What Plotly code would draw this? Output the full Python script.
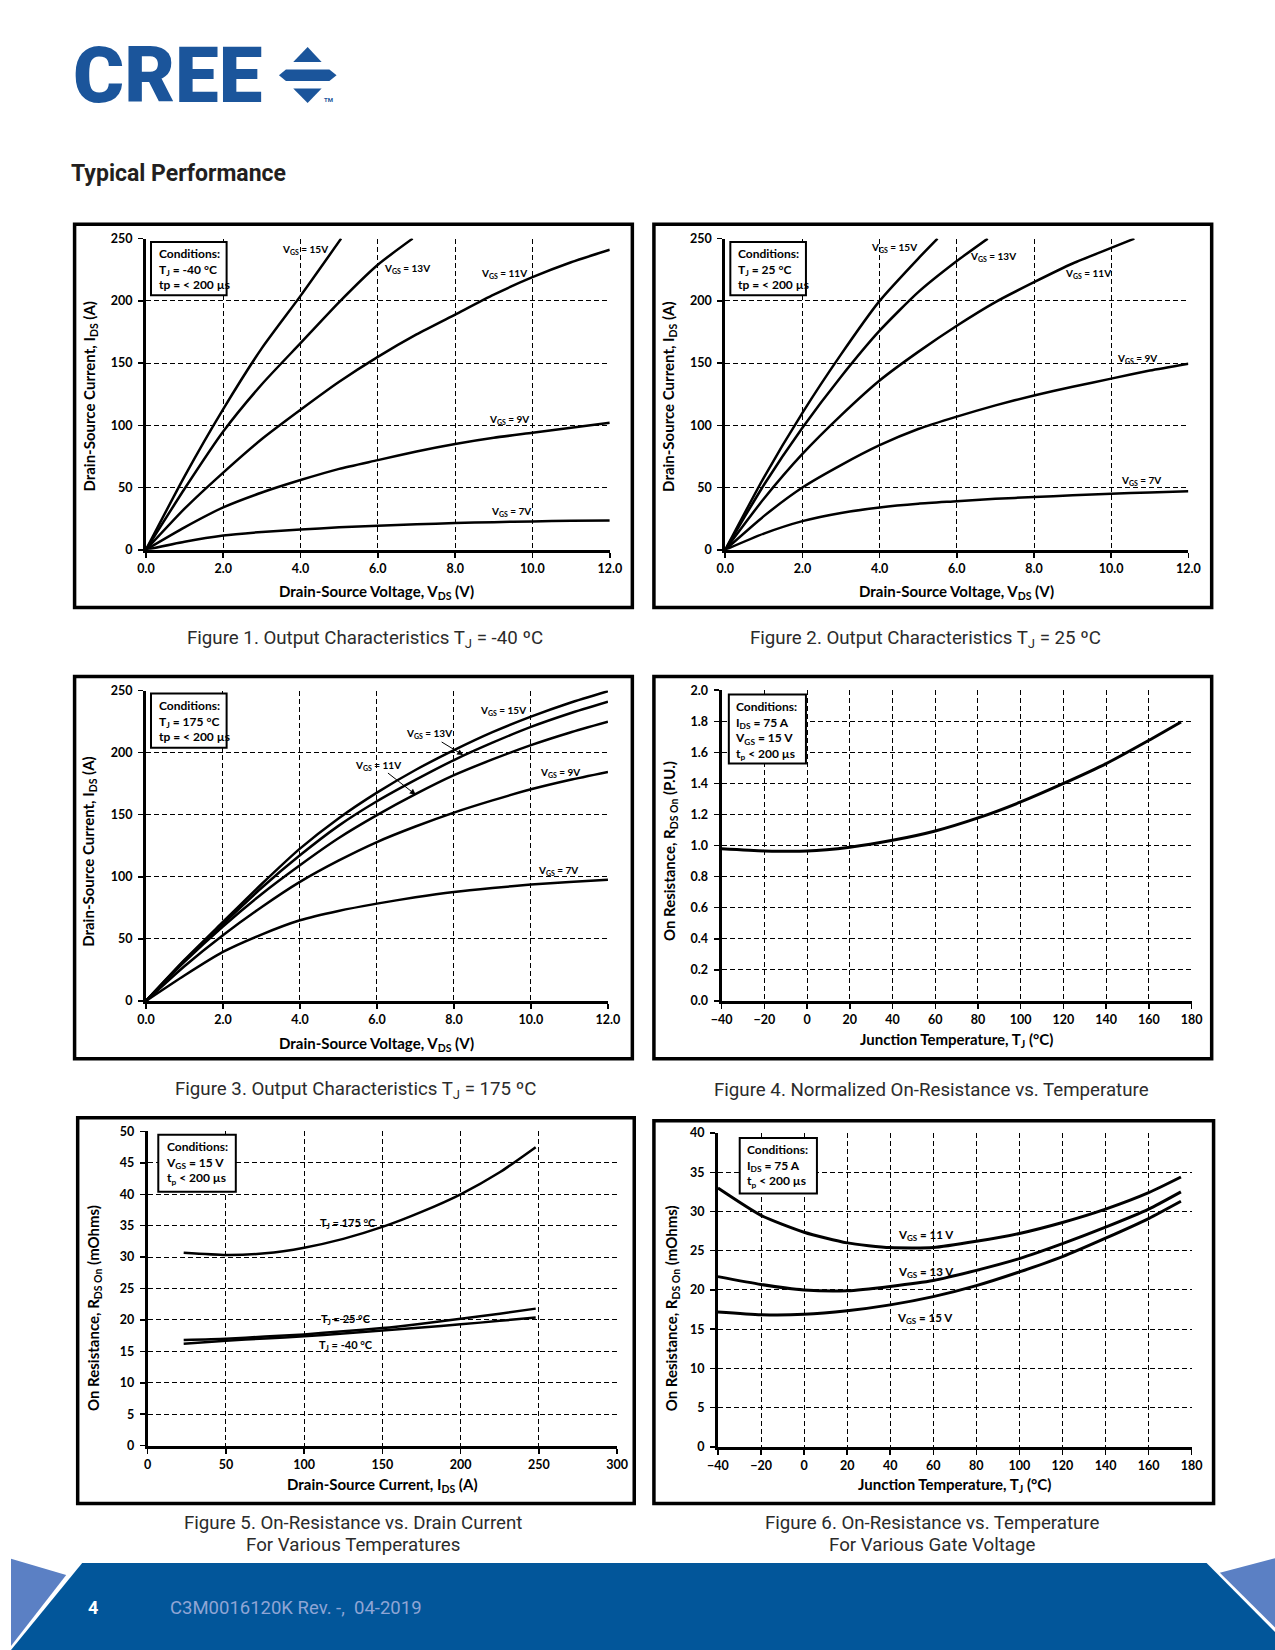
import plotly.graph_objects as go

# Positions below are reference-page pixels; they are mapped into figure
# pixels with the measured page-to-photo transform (scale + offset).
OX, OY = 0, 0            # body margin removed by the post script
W, H = 1290, 1662        # slightly larger than the page so the footer reaches the edges
AX, BX = 0.9833, 10.74
AY, BY = 0.9905, 7.8

# ====================== DATA ======================
VDS = [0, 1, 2, 3, 4, 5, 6, 7, 8, 9, 10, 11, 12]

# Figure 1 : Output characteristics, Tj = -40 C
f1_vgs15_x = [0, 1, 2, 3, 4, 5.05]
f1_vgs15_y = [0, 59, 113, 162, 204, 250]
f1_vgs13_x = [0, 1, 2, 3, 4, 5, 6, 6.9]
f1_vgs13_y = [0, 49, 95, 133, 166, 199, 229, 250]
f1_vgs11_y = [0, 33, 62, 89, 112.5, 135, 155, 173, 189, 205, 219, 231, 241]
f1_vgs9_y = [0, 18, 34, 46, 56, 65, 72, 79, 85, 90, 94, 98, 102]
f1_vgs7_y = [0, 6.5, 11.5, 14.3, 16.3, 18, 19.3, 20.4, 21.4, 22.2, 22.8, 23.3, 23.6]

# Figure 2 : Output characteristics, Tj = 25 C
f2_vgs15_x = [0, 1, 2, 3, 4, 5, 5.5]
f2_vgs15_y = [0, 58, 110, 157, 200, 234, 250]
f2_vgs13_x = [0, 1, 2, 3, 4, 5, 6, 6.8]
f2_vgs13_y = [0, 52, 98, 139, 176, 207, 232, 250]
f2_vgs11_x = [0, 1, 2, 3, 4, 5, 6, 7, 8, 9, 10, 10.6]
f2_vgs11_y = [0, 41, 77, 108, 136, 159, 180, 199, 215, 230, 242.5, 250]
f2_vgs9_y = [0, 27, 50, 68, 84, 97, 107, 116, 124, 131, 137.5, 144, 149.5]
f2_vgs7_y = [0, 13, 23, 29.5, 34, 37, 39, 41, 42.3, 43.8, 45, 46, 47]

# Figure 3 : Output characteristics, Tj = 175 C
f3_vgs15_y = [0, 33, 63.6, 94, 122.7, 147, 167.8, 186, 202, 216.5, 229, 240, 249.5]
f3_vgs13_y = [0, 32.5, 62, 91, 117.3, 141, 160.8, 178, 194, 208, 220.7, 231.5, 241]
f3_vgs11_y = [0, 31.5, 60, 86, 109.3, 131, 149.6, 166.5, 181.8, 194.5, 206, 216, 224.8]
f3_vgs9_y = [0, 28, 53, 75.5, 95.9, 113, 128, 140.5, 151.7, 161.5, 170.5, 178, 184.5]
f3_vgs7_y = [0, 20.5, 39.5, 53.5, 65, 72.5, 78.4, 83.5, 87.8, 91, 93.7, 95.9, 97.7]

# Figure 4 : Normalized on-resistance vs temperature
f4_tj = [-40, -20, 0, 20, 40, 60, 80, 100, 120, 140, 160, 175]
f4_rds = [0.98, 0.966, 0.965, 0.99, 1.034, 1.094, 1.178, 1.281, 1.40, 1.528, 1.678, 1.796]

# Figure 5 : On-resistance vs drain current
f5_ids = [23, 50, 75, 100, 125, 150, 175, 200, 225, 248]
f5_tj175 = [30.7, 30.35, 30.6, 31.5, 32.9, 34.8, 37.2, 40.0, 43.5, 47.5]
f5_tj25 = [16.8, 17.0, 17.35, 17.7, 18.2, 18.7, 19.4, 20.2, 21.0, 21.8]
f5_tjm40 = [16.2, 16.7, 17.05, 17.4, 17.85, 18.3, 18.8, 19.3, 19.85, 20.4]

# Figure 6 : On-resistance vs temperature for various gate voltages
f6_tj = [-40, -20, 0, 20, 40, 60, 80, 100, 120, 140, 160, 175]
f6_vgs11 = [32.98, 29.5, 27.36, 26.0, 25.4, 25.4, 26.2, 27.2, 28.6, 30.3, 32.4, 34.4]
f6_vgs13 = [21.7, 20.7, 20.0, 19.9, 20.45, 21.2, 22.5, 24.0, 25.9, 28.0, 30.3, 32.5]
f6_vgs15 = [17.2, 16.85, 16.9, 17.35, 18.1, 19.15, 20.55, 22.3, 24.25, 26.6, 29.1, 31.3]

# Curve label texts and their (x, y) positions in data units
vgs_labels = ["V<sub>GS</sub> = 15V", "V<sub>GS</sub> = 13V", "V<sub>GS</sub> = 11V",
              "V<sub>GS</sub> = 9V", "V<sub>GS</sub> = 7V"]
f1_label_x = [4.12, 6.76, 9.26, 9.4, 9.45]
f1_label_y = [241, 226, 222, 104.8, 31]
f2_label_x = [4.36, 6.95, 9.4, 10.68, 10.77]
f2_label_y = [242.8, 236, 222, 154, 56]
f3_label_x = [9.28, 7.34, 6.02, 10.75, 10.7]
f3_label_y = [233.6, 215, 190, 184, 105]
f3_arrow_x = [None, 8.24, 7.01, None, None]
f3_arrow_y = [None, 198, 166, None, None]
f5_labels = ["T<sub>J</sub> = 175 °C", "T<sub>J</sub> = 25 °C", "T<sub>J</sub> = -40 °C"]
f5_label_x = [128, 127, 127]
f5_label_y = [35.35, 20.1, 16.0]
f6_labels = ["V<sub>GS</sub> = 11 V", "V<sub>GS</sub> = 13 V", "V<sub>GS</sub> = 15 V"]
f6_label_x = [56.6, 56.6, 56]
f6_label_y = [27.0, 22.2, 16.3]

conditions = [
    "Conditions:<br>T<sub>J</sub> = -40 °C<br>tp = < 200 µs",
    "Conditions:<br>T<sub>J</sub> = 25 °C<br>tp = < 200 µs",
    "Conditions:<br>T<sub>J</sub> = 175 °C<br>tp = < 200 µs",
    "Conditions:<br>I<sub>DS</sub> = 75 A<br>V<sub>GS</sub> = 15 V<br>t<sub>p</sub> < 200 µs",
    "Conditions:<br>V<sub>GS</sub> = 15 V<br>t<sub>p</sub> < 200 µs",
    "Conditions:<br>I<sub>DS</sub> = 75 A<br>t<sub>p</sub> < 200 µs",
]
captions_line1 = [
    "Figure 1. Output Characteristics T<sub>J</sub> = -40 ºC",
    "Figure 2. Output Characteristics T<sub>J</sub> = 25 ºC",
    "Figure 3. Output Characteristics T<sub>J</sub> = 175 ºC",
    "Figure 4. Normalized On-Resistance vs. Temperature",
    "Figure 5. On-Resistance vs. Drain Current",
    "Figure 6. On-Resistance vs. Temperature",
]
captions_line2 = ["", "", "", "", "For Various Temperatures", "For Various Gate Voltage"]
x_titles = [
    "Drain-Source Voltage, V<sub>DS</sub> (V)",
    "Drain-Source Voltage, V<sub>DS</sub> (V)",
    "Drain-Source Voltage, V<sub>DS</sub> (V)",
    "Junction Temperature, T<sub>J</sub> (°C)",
    "Drain-Source Current, I<sub>DS</sub> (A)",
    "Junction Temperature, T<sub>J</sub> (°C)",
]
y_titles = [
    "Drain-Source Current, I<sub>DS</sub> (A)",
    "Drain-Source Current, I<sub>DS</sub> (A)",
    "Drain-Source Current, I<sub>DS</sub> (A)",
    "On Resistance, R<sub>DS On</sub> (P.U.)",
    "On Resistance, R<sub>DS On</sub> (mOhms)",
    "On Resistance, R<sub>DS On</sub> (mOhms)",
]

# ====================== LAYOUT HELPERS ======================
def clamp(v, lo, hi):
    return max(lo, min(hi, v))

def figx(p):
    return (p - BX) / AX - OX

def figy(p):
    return (p - BY) / AY - OY

def fx(p):
    return figx(p) / W

def fy(p):
    return 1 - figy(p) / H

CHART_FONT = "Lato"
BLACK = "black"
LOGO_BLUE = "#1b559b"

plot_px = [
    (145.8, 610.2, 238.3, 549.3),
    (725.8, 1189.5, 238.3, 549.3),
    (145.8, 608.4, 690.0, 1000.3),
    (722.1, 1192.8, 689.7, 1000.3),
    (147.6, 617.5, 1130.7, 1444.7),
    (718.5, 1192.8, 1132.3, 1446.0),
]
x_specs = [([0, 12], 2, ".1f")] * 3 + [([-40, 180], 20, "d"), ([0, 300], 50, "d"), ([-40, 180], 20, "d")]
y_specs = [([0, 250], 50, "d")] * 3 + [([0, 2.0], 0.2, ".1f"), ([0, 50], 5, "d"), ([0, 40], 5, "d")]
frames_px = [
    (74.4, 224, 632.8, 607),
    (654.4, 224, 1212.8, 607),
    (74.4, 676, 632.8, 1058),
    (654.4, 676, 1212.8, 1058),
    (77.5, 1117, 634.7, 1502.7),
    (654.4, 1120, 1214.7, 1502.7),
]
cond_px = [
    (150.9, 241.7, 226.6, 295.0, 156.5),
    (730.9, 241.7, 806.6, 295.0, 736.5),
    (150.9, 693.0, 226.6, 747.3, 156.5),
    (729.4, 694.0, 806.6, 763.0, 734.0),
    (158.2, 1134.0, 235.8, 1191.0, 163.5),
    (740.3, 1137.3, 817.6, 1192.7, 745.5),
]
x_title_px = [(377, 592), (957, 592), (377, 1043), (957.5, 1039), (383, 1484), (955, 1484)]
y_title_px = [(90, 396), (670, 396), (88, 851), (670, 851), (94, 1307), (672, 1308)]
caption_px = [(365, 638.5), (926, 638.5), (355.6, 1089), (932.6, 1089), (353.5, 1522), (933, 1522)]
CAPTION_LINE2_DY = 22

fig = go.Figure()

layout_axes = {}
for i in range(6):
    n = "" if i == 0 else str(i + 1)
    l, r, t, b = plot_px[i]
    xr, xdt, xfmt = x_specs[i]
    yr, ydt, yfmt = y_specs[i]
    common = dict(
        showline=True, linecolor=BLACK, linewidth=3,
        ticks="outside", ticklen=5, tickwidth=1.5, tickcolor=BLACK,
        showgrid=True, gridcolor=BLACK, gridwidth=1, griddash="5px,3px",
        zeroline=False, fixedrange=True,
        tickfont=dict(family=CHART_FONT, size=12.5, color=BLACK, weight="bold"),
    )
    layout_axes["xaxis" + n] = dict(
        common, domain=[fx(l), fx(r)], anchor="y" + n, range=xr,
        tick0=xr[0], dtick=xdt, tickformat=xfmt, ticklabelstandoff=0,
    )
    layout_axes["yaxis" + n] = dict(
        common, domain=[fy(b), fy(t)], anchor="x" + n, range=yr,
        tick0=yr[0], dtick=ydt, tickformat=yfmt, ticklabelstandoff=3,
    )

def add_curve(x, y, ax, width=2.5):
    fig.add_trace(go.Scatter(
        x=x, y=y, mode="lines",
        line=dict(color=BLACK, width=width, shape="spline", smoothing=0.6),
        xaxis="x" + ax, yaxis="y" + ax, showlegend=False, hoverinfo="skip",
    ))

add_curve(f1_vgs15_x, f1_vgs15_y, "")
add_curve(f1_vgs13_x, f1_vgs13_y, "")
add_curve(VDS, f1_vgs11_y, "")
add_curve(VDS, f1_vgs9_y, "")
add_curve(VDS, f1_vgs7_y, "")
add_curve(f2_vgs15_x, f2_vgs15_y, "2")
add_curve(f2_vgs13_x, f2_vgs13_y, "2")
add_curve(f2_vgs11_x, f2_vgs11_y, "2")
add_curve(VDS, f2_vgs9_y, "2")
add_curve(VDS, f2_vgs7_y, "2")
for ys in [f3_vgs15_y, f3_vgs13_y, f3_vgs11_y, f3_vgs9_y, f3_vgs7_y]:
    add_curve(VDS, ys, "3")
add_curve(f4_tj, f4_rds, "4", width=3)
add_curve(f5_ids, f5_tj175, "5")
add_curve(f5_ids, f5_tj25, "5")
add_curve(f5_ids, f5_tjm40, "5")
add_curve(f6_tj, f6_vgs11, "6", width=3)
add_curve(f6_tj, f6_vgs13, "6", width=3)
add_curve(f6_tj, f6_vgs15, "6", width=3)

annotations = []
shapes = []

def label(text, x, y, ax, size):
    annotations.append(dict(
        text=text, x=x, y=y, xref="x" + ax, yref="y" + ax, showarrow=False,
        font=dict(family=CHART_FONT, size=size, color=BLACK, weight="bold"),
        xanchor="center", yanchor="middle",
    ))

for k in range(5):
    label(vgs_labels[k], f1_label_x[k], f1_label_y[k], "", 10)
    label(vgs_labels[k], f2_label_x[k], f2_label_y[k], "2", 10)
for k in range(5):
    if f3_arrow_x[k] is None:
        label(vgs_labels[k], f3_label_x[k], f3_label_y[k], "3", 10)
    else:
        annotations.append(dict(
            text=vgs_labels[k], x=f3_arrow_x[k], y=f3_arrow_y[k],
            ax=f3_label_x[k], ay=f3_label_y[k], axref="x3", ayref="y3",
            xref="x3", yref="y3", showarrow=True, arrowhead=2, arrowsize=1.2,
            arrowwidth=1, arrowcolor=BLACK,
            font=dict(family=CHART_FONT, size=10, color=BLACK, weight="bold"),
        ))
for k in range(3):
    label(f5_labels[k], f5_label_x[k], f5_label_y[k], "5", 11)
    label(f6_labels[k], f6_label_x[k], f6_label_y[k], "6", 11.5)

for i in range(6):
    l, t, r, b = frames_px[i]
    shapes.append(dict(type="rect", xref="paper", yref="paper",
                       x0=fx(l), x1=fx(r), y0=fy(b), y1=fy(t),
                       line=dict(color=BLACK, width=3.5), layer="above"))
    cl, ct, cr, cb, tl = cond_px[i]
    shapes.append(dict(type="rect", xref="paper", yref="paper",
                       x0=fx(cl), x1=fx(cr), y0=fy(cb), y1=fy(ct),
                       line=dict(color=BLACK, width=2), fillcolor="white", layer="above"))
    annotations.append(dict(
        text=conditions[i], x=fx(tl), y=fy(ct + 2), xref="paper", yref="paper",
        xanchor="left", yanchor="top", align="left", showarrow=False,
        font=dict(family=CHART_FONT, size=12, color=BLACK, weight="bold"),
    ))
    annotations.append(dict(
        text=x_titles[i], x=fx(x_title_px[i][0]), y=fy(x_title_px[i][1]),
        xref="paper", yref="paper", showarrow=False, xanchor="center", yanchor="middle",
        font=dict(family=CHART_FONT, size=15, color=BLACK, weight="bold"),
    ))
    annotations.append(dict(
        text=y_titles[i], x=fx(y_title_px[i][0]), y=fy(y_title_px[i][1]),
        xref="paper", yref="paper", showarrow=False, xanchor="center", yanchor="middle",
        textangle=-90,
        font=dict(family=CHART_FONT, size=15, color=BLACK, weight="bold"),
    ))
    annotations.append(dict(
        text=captions_line1[i], x=fx(caption_px[i][0]), y=fy(caption_px[i][1]),
        xref="paper", yref="paper", showarrow=False, xanchor="center", yanchor="middle",
        font=dict(family="Roboto", size=18.7, color="#2b2b2b", weight=400),
    ))
    if captions_line2[i]:
        annotations.append(dict(
            text=captions_line2[i], x=fx(caption_px[i][0]),
            y=fy(caption_px[i][1] + CAPTION_LINE2_DY),
            xref="paper", yref="paper", showarrow=False, xanchor="center", yanchor="middle",
            font=dict(family="Roboto", size=18.7, color="#2b2b2b", weight=400),
        ))

# ---- header: logo and section title ----
annotations.append(dict(
    text="CREE", x=fx(71), y=fy(75), xref="paper", yref="paper", showarrow=False,
    xanchor="left", yanchor="middle",
    font=dict(family="Roboto", size=78, color=LOGO_BLUE, weight=900),
))
annotations.append(dict(
    text="TM", x=fx(328.5), y=fy(99), xref="paper", yref="paper", showarrow=False,
    xanchor="center", yanchor="middle",
    font=dict(family="Roboto", size=6, color=LOGO_BLUE, weight="bold"),
))

def path(points):
    pts = [(clamp(figx(px), 0, W), clamp(figy(py), 0, H)) for px, py in points]
    return "M " + " L ".join(f"{x / W:.5f},{1 - y / H:.5f}" for x, y in pts) + " Z"

logo_up = [(307.7, 46.7), (321.7, 61.7), (293.3, 61.7)]
logo_bar = [(279, 75), (286, 69.3), (329.5, 69.3), (336.7, 75), (329.5, 80.7), (286, 80.7)]
logo_down = [(293.3, 88.3), (321.7, 88.3), (307.7, 102.7)]
for pts in (logo_up, logo_bar, logo_down):
    shapes.append(dict(type="path", xref="paper", yref="paper", path=path(pts),
                       fillcolor=LOGO_BLUE, line=dict(width=0), layer="above"))

annotations.append(dict(
    text="Typical Performance", x=fx(68.5), y=fy(173.5), xref="paper", yref="paper",
    showarrow=False, xanchor="left", yanchor="middle",
    font=dict(family="Roboto", size=23, color="#231f20", weight="bold"),
))

# ---- footer ----
FOOT_DARK = "#02569a"
FOOT_LIGHT = "#5b80c4"
shapes.append(dict(type="path", xref="paper", yref="paper",
                   path=path([(82, 1562), (1207.7, 1562), (1280, 1634), (1280, 1670), (-5, 1670), (-5, 1649)]),
                   fillcolor=FOOT_DARK, line=dict(width=0), layer="above"))
shapes.append(dict(type="path", xref="paper", yref="paper",
                   path=path([(-5, 1557.9), (66, 1574), (-5, 1645)]),
                   fillcolor=FOOT_LIGHT, line=dict(width=0), layer="above"))
shapes.append(dict(type="path", xref="paper", yref="paper",
                   path=path([(1221, 1571.7), (1280, 1556.4), (1280, 1629.5)]),
                   fillcolor=FOOT_LIGHT, line=dict(width=0), layer="above"))
annotations.append(dict(
    text="4", x=fx(92.5), y=fy(1607), xref="paper", yref="paper", showarrow=False,
    xanchor="center", yanchor="middle",
    font=dict(family="Roboto", size=18, color="white", weight="bold"),
))
annotations.append(dict(
    text="C3M0016120K Rev. -,\u00a0 04-2019", x=fx(168), y=fy(1607.5), xref="paper", yref="paper",
    showarrow=False, xanchor="left", yanchor="middle",
    font=dict(family="Roboto", size=18.5, color="#8fa5d5"),
))

fig.update_layout(
    width=W, height=H, autosize=False,
    margin=dict(l=0, r=0, t=0, b=0, pad=0),
    paper_bgcolor="white", plot_bgcolor="white",
    showlegend=False,
    annotations=annotations, shapes=shapes,
    **layout_axes,
)

fig.write_html("out.html", config={"displayModeBar": False, "staticPlot": True},
               post_script="document.body.style.margin='0';document.body.style.overflow='hidden';")
